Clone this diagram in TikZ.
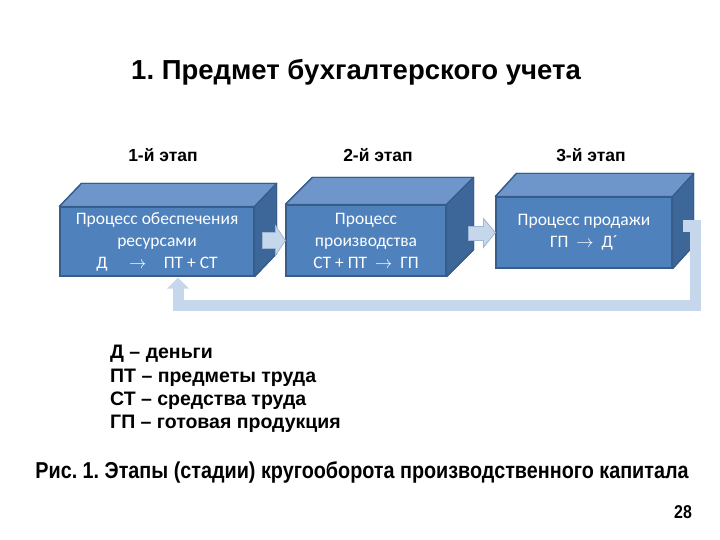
\documentclass[tikz,border=0pt]{standalone}
\usepackage{fontspec}
\setmainfont{Liberation Sans}
\newfontfamily\boxfont{Carlito}
\usetikzlibrary{arrows.meta,calc}
\frenchspacing
\definecolor{front}{HTML}{4F81BD}
\definecolor{topf}{HTML}{6F96CB}
\definecolor{side}{HTML}{3D6699}
\definecolor{edge}{HTML}{385D8A}
\definecolor{lightb}{HTML}{C6D6EB}
\definecolor{lightedge}{HTML}{9DB5D6}
\tikzset{
  frontbox/.style={draw=edge,line width=1.2pt,fill=front,text=white,align=center,inner sep=0pt,
    font=\boxfont\fontsize{17.5}{22}\selectfont},
  topface/.style={draw=edge,line width=1.2pt,fill=topf,line join=round},
  sideface/.style={draw=edge,line width=1.2pt,fill=side,line join=round},
  blockarr/.style={draw=lightedge,line width=0.8pt,fill=lightb},
  stage/.style={font=\bfseries\fontsize{17.5}{20}\selectfont},
  legend/.style={font=\bfseries\fontsize{19.5}{23.4}\selectfont,align=left,anchor=north west,inner sep=0pt},
}
\newcommand{\cuboid}[3]{%
  \fill[topface] (#1.north west) -- ++(#2,-#3) -- ([shift={(#2,-#3)}]#1.north east) -- (#1.north east) -- cycle;
  \fill[sideface] (#1.north east) -- ++(#2,-#3) -- ([shift={(#2,-#3)}]#1.south east) -- (#1.south east) -- cycle;
  \draw[topface,fill=none] (#1.north west) -- ++(#2,-#3) -- ([shift={(#2,-#3)}]#1.north east) -- ([shift={(#2,-#3)}]#1.south east) -- (#1.south east);
}
\begin{document}
\begin{tikzpicture}[x=1pt,y=-1pt]
\useasboundingbox (0,0) rectangle (720,540);
% title
\node[font=\bfseries\fontsize{27.5}{32}\selectfont] (title) at (356,72) {1. Предмет бухгалтерского учета};
% stages
\node[stage] (s1) at (163,155) {1-й этап};
\node[stage] (s2) at (378,155) {2-й этап};
\node[stage] (s3) at (591,155) {3-й этап};
% boxes
\node[frontbox,minimum width=194pt,minimum height=69pt] (b1) at (157,241.5) {Процесс обеспечения\\ресурсами\\Д \quad$\rightarrow$\quad ПТ + СТ};
\cuboid{b1}{22}{23}
\node[frontbox,minimum width=160pt,minimum height=71pt] (b2) at (366,240.5) {Процесс\\производства\\СТ + ПТ \ $\rightarrow$ \ ГП};
\cuboid{b2}{27}{27}
\node[frontbox,minimum width=176pt,minimum height=71pt] (b3) at (584,232.5) {Процесс продажи\\ГП \ $\rightarrow$ \ Д´};
\cuboid{b3}{21}{23}
% block arrows between boxes
\draw[blockarr] ($(b2.west)+(-23,-8)$) -- ++(13,0) -- ++(0,-7) -- (b2.west) -- ++(-10,15) -- ++(0,-7) -- ++(-13,0) -- cycle;
\draw[blockarr] ($(b3.west)+(-27,-6)$) -- ++(15,0) -- ++(0,-8) -- (b3.west) -- ++(-12,15) -- ++(0,-7) -- ++(-15,0) -- cycle;
% feedback loop
\coordinate (l0) at (683,226);
\coordinate (l1) at (695,226);
\coordinate (l2) at (695,305.5);
\coordinate (l3) at ($(b1.south)+(21,0)$);
\draw[lightb,line width=11pt,line join=miter] (l0) -- (l1) -- (l2) -- (l3 |- l2) -- ($(l3)+(0,11)$);
\fill[lightb] ($(l3)+(0,1)$) -- ($(l3)+(11,12)$) -- ($(l3)+(-11,12)$) -- cycle;
% legend
\node[legend] (leg) at (110,345) {Д – деньги\\ПТ – предметы труда\\СТ – средства труда\\ГП – готовая продукция};
% caption
\node[font=\bfseries\fontsize{23}{27}\selectfont] (cap) at (362,472) {\scalebox{0.86}[1]{Рис. 1. Этапы (стадии) кругооборота производственного капитала}};
\node[font=\bfseries\fontsize{18.5}{20}\selectfont] (pg) at (683,512) {\scalebox{0.86}[1]{28}};
\end{tikzpicture}
\end{document}
